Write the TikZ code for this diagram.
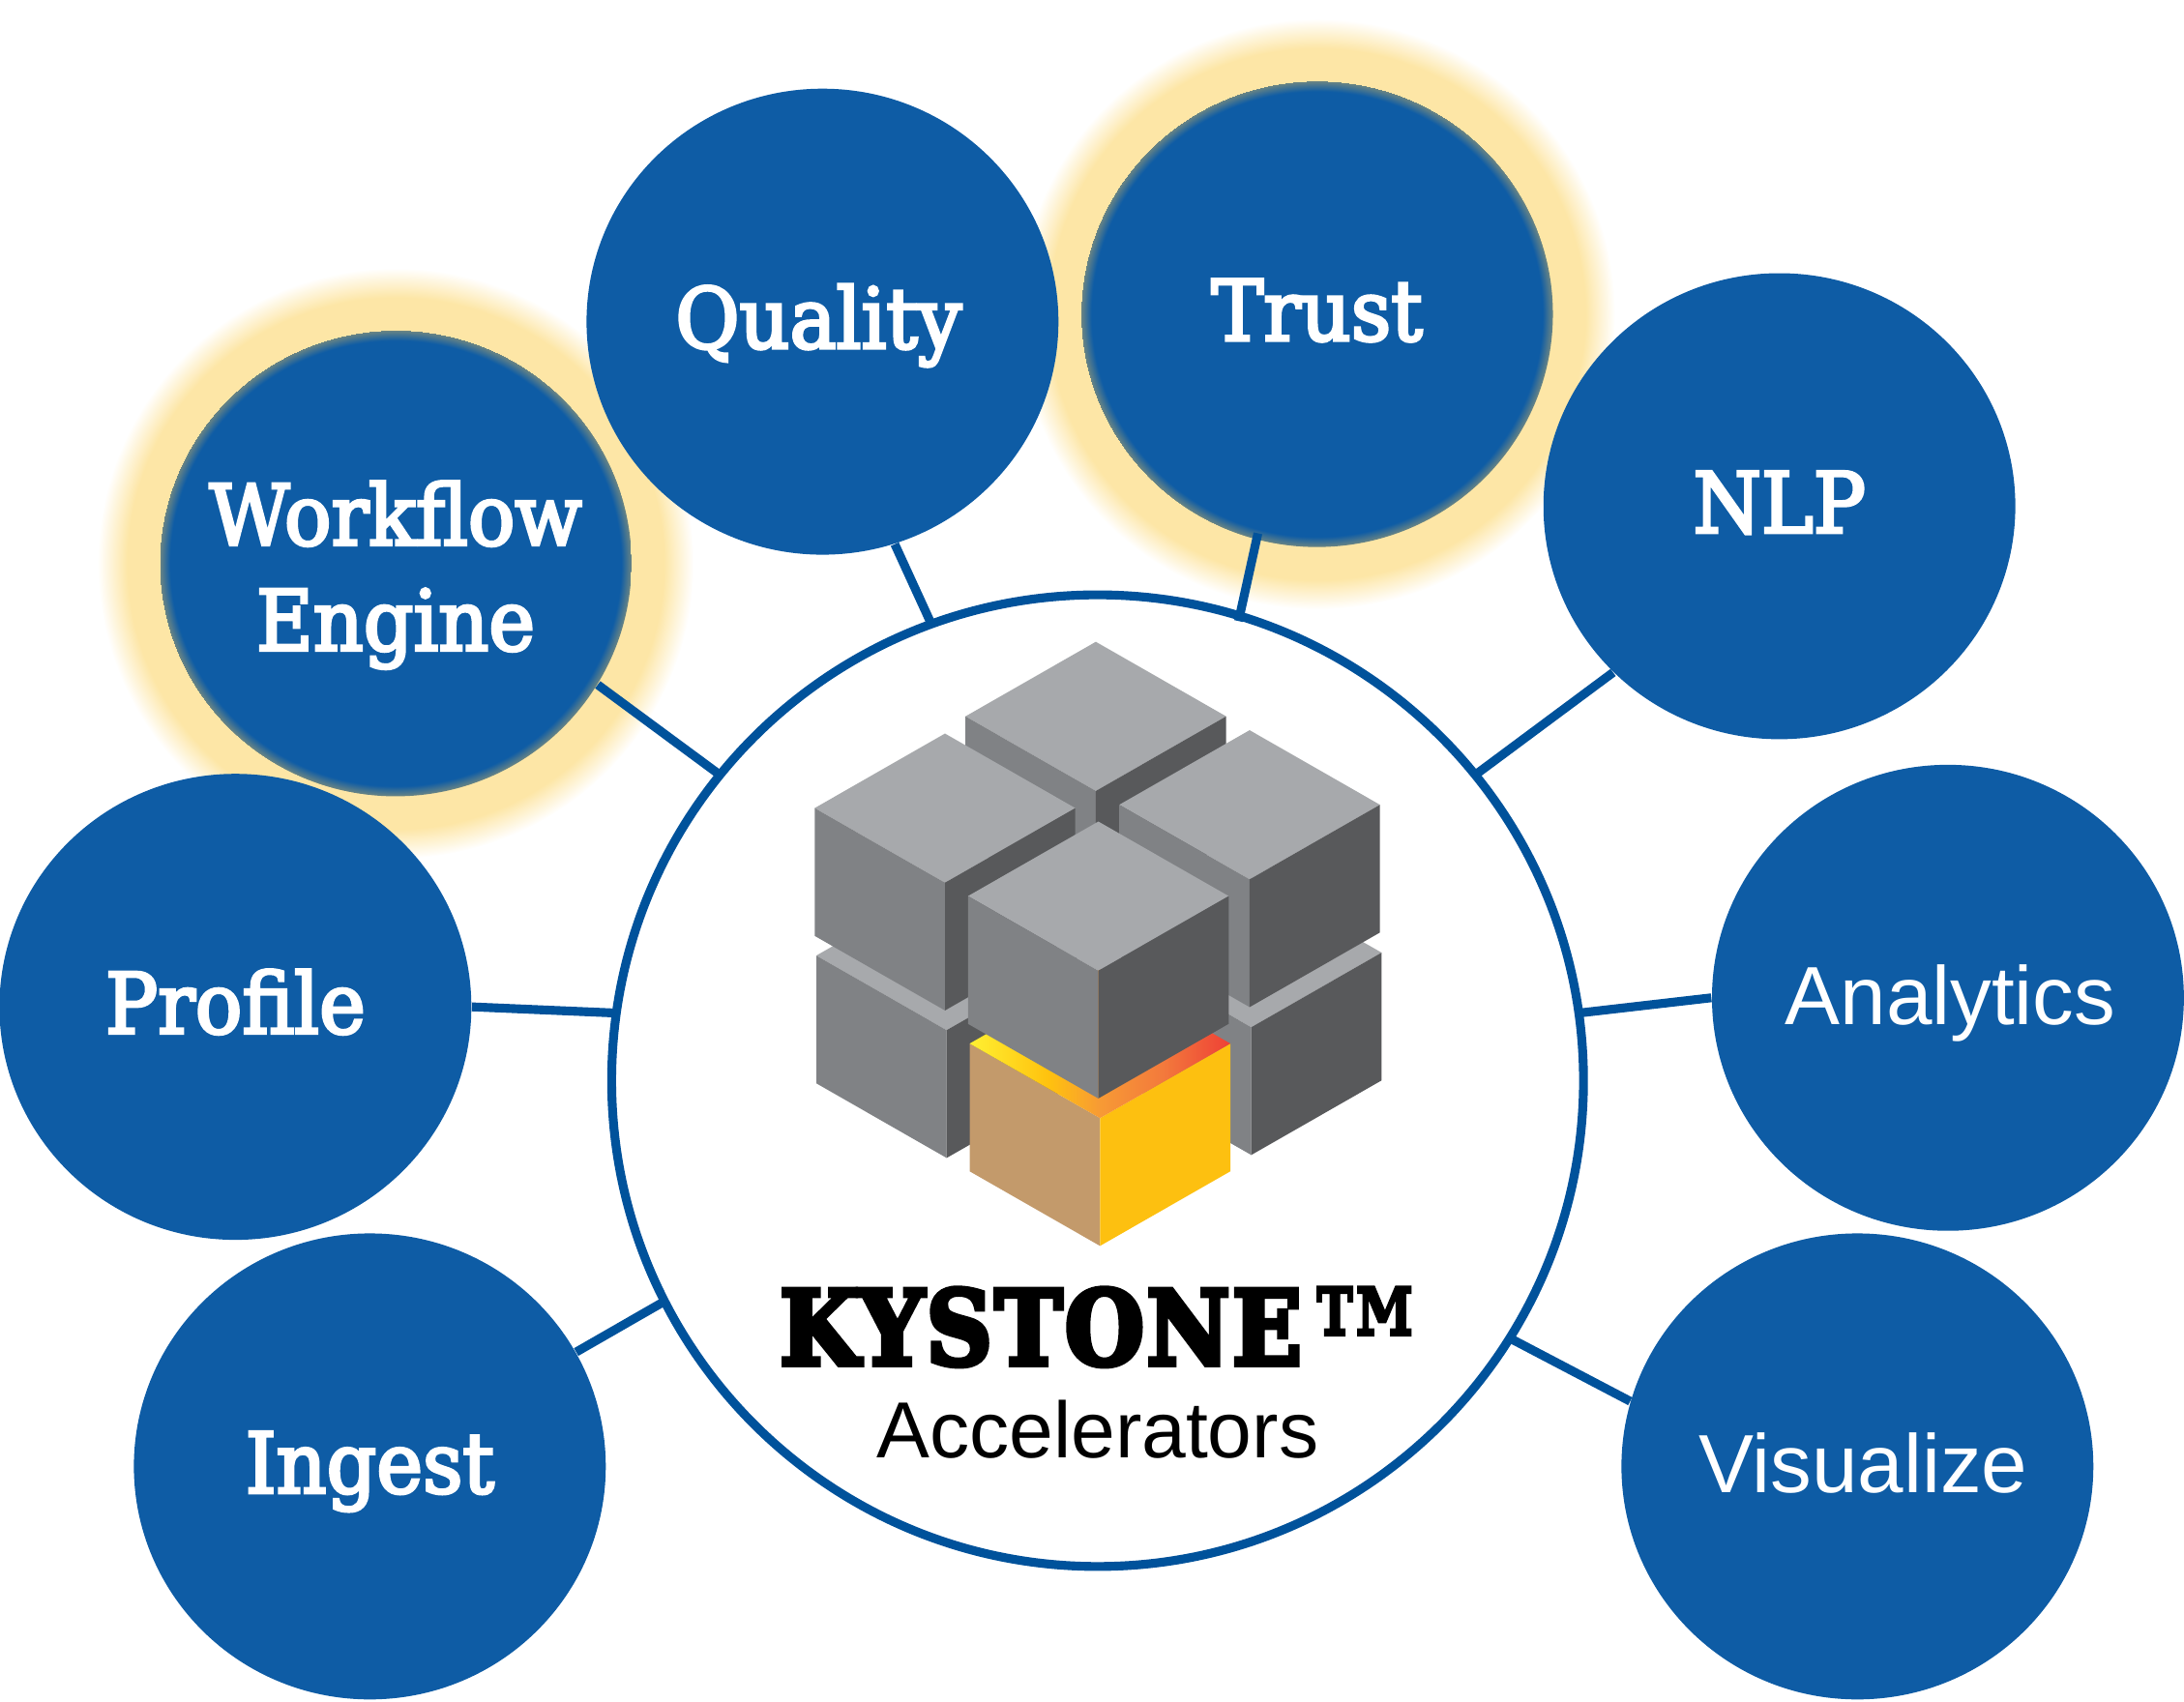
\documentclass[tikz,border=0pt]{standalone}
\usepackage{fontspec}
\setmainfont{Liberation Sans}
\newfontfamily\slabfont[FakeBold=3.6,FakeStretch=.93]{DejaVu Serif}
\newfontfamily\heavyfont[FakeBold=5,FakeStretch=.88,LetterSpace=2.5]{DejaVu Serif Bold}
\newfontfamily\markfont[FakeBold=.8,FakeStretch=1.05]{DejaVu Serif Bold}
\usetikzlibrary{shapes.geometric}
\definecolor{discblue}{RGB}{14,92,165}
\definecolor{spokeblue}{RGB}{0,82,155}
\definecolor{halocream}{RGB}{253,230,166}
\definecolor{rimtan}{RGB}{107,133,131}
\definecolor{cubetop}{RGB}{167,169,172}
\definecolor{cubeleft}{RGB}{128,130,133}
\definecolor{cuberight}{RGB}{88,89,91}
\definecolor{keytan}{RGB}{195,154,107}
\definecolor{keygold}{RGB}{253,192,16}
\definecolor{lighta}{RGB}{255,240,50}
\definecolor{lightb}{RGB}{255,194,14}
\definecolor{lightc}{RGB}{247,154,53}
\definecolor{lightd}{RGB}{243,122,60}
\definecolor{lighte}{RGB}{238,64,54}
\pgfdeclareradialshading{halo}{\pgfpoint{0bp}{0bp}}{color(0bp)=(halocream); color(22.5bp)=(halocream); color(25bp)=(white)}
\pgfdeclareradialshading{rimglow}{\pgfpoint{0bp}{0bp}}{color(0bp)=(discblue); color(23.9bp)=(discblue); color(25bp)=(rimtan)}
\pgfdeclarehorizontalshading{keytop}{100bp}{color(0bp)=(lighta); color(25bp)=(lighta); color(40bp)=(lightb); color(50bp)=(lightc); color(62bp)=(lightd); color(75bp)=(lighte); color(100bp)=(lighte)}
\tikzset{
disc/.style={ellipse,inner ysep=0pt,inner xsep=-1.5cm,minimum width=4.88cm,minimum height=4.82cm,text=white,align=center,text height=.547cm,text depth=0pt},
plaindisc/.style={disc,fill=discblue},
glowdisc/.style={disc,shade,shading=rimglow},
slab/.style={font=\slabfont\fontsize{24.7}{31}\selectfont},
sans/.style={font=\fontsize{24.3}{31}\selectfont},
spoke/.style={draw=spokeblue,line width=2.6pt},
hubtext/.style={anchor=base,inner sep=0pt,text depth=0pt}
}
\newcommand{\isocube}[5]{
\fill[#3] (#1,#2) -- ++(-311,-178) -- ++(311,-178) -- ++(311,178) -- cycle;
\fill[#4] (#1,#2) -- ++(-311,-178) -- ++(0,305) -- ++(311,178) -- cycle;
\fill[#5] (#1,#2) -- ++(311,-178) -- ++(0,305) -- ++(-311,178) -- cycle;
}
\begin{document}
\begin{tikzpicture}[x=.0144cm,y=-.0144cm]
\useasboundingbox (0,0) rectangle (1568,1221.5);
\shade[shading=halo] (284,404.5) ellipse [x radius=214,y radius=212];
\shade[shading=halo] (945.5,225.5) ellipse [x radius=214,y radius=212];
\node[plaindisc,slab] (quality) at (590.5,231) {Quality\hspace*{.08cm}};
\node[plaindisc,slab] (profile) at (169,723) {Profile};
\node[plaindisc,slab] (ingest) at (265.5,1053) {Ingest};
\node[plaindisc,slab] (nlp) at (1277.5,363.5) {NLP};
\node[plaindisc,sans] (analytics) at (1398.5,716.5) {\hspace*{.05cm}Analytics};
\node[plaindisc,sans] (visualize) at (1333.5,1053) {\hspace*{.12cm}Visualize};
\node[glowdisc,slab] (trust) at (945.5,225.5) {Trust};
\node[glowdisc,slab,text height=1.8cm] (workflow) at (284,404.5) {Workflow\\Engine};
\node[circle,draw=spokeblue,line width=2.6pt,fill=white,minimum size=10.05cm,inner sep=0pt,outer sep=0pt] (hub) at (788,776) {};
\draw[spoke] (hub.141) -- (workflow.-31.6);
\draw[spoke] (hub.110.3) -- (quality.-72.3);
\draw[spoke,shorten >=-2pt,shorten <=-1.5pt] (hub.73.6) -- (trust.-105.3);
\draw[spoke] (hub.39.7) -- (nlp.-135.5);
\draw[spoke] (hub.8.4) -- (analytics.180);
\draw[spoke] (hub.-32.5) -- (visualize.164.5);
\draw[spoke] (hub.-153.6) -- (ingest.29.5);
\draw[spoke] (hub.172) -- (profile.0.7);
\begin{scope}[shift={(8cm,-6.4cm)},x=.004336cm,y=-.004336cm]
\isocube{413}{982}{cubetop}{cubeleft}{cuberight}
\isocube{1140}{975}{cubetop}{cubeleft}{cuberight}
\isocube{769}{411}{cubetop}{cubeleft}{cuberight}
\isocube{409}{630}{cubetop}{cubeleft}{cuberight}
\isocube{1136}{622}{cubetop}{cubeleft}{cuberight}
\fill[keytan] (779,1192) -- ++(-311,-178) -- ++(0,305) -- ++(311,178) -- cycle;
\fill[keygold] (779,1192) -- ++(311,-178) -- ++(0,305) -- ++(-311,178) -- cycle;
\shade[shading=keytop] (779,1192) -- ++(-311,-178) -- ++(311,-178) -- ++(311,178) -- cycle;
\isocube{775}{840}{cubetop}{cubeleft}{cuberight}
\end{scope}
\node[hubtext,font=\heavyfont\fontsize{30.4}{36}\selectfont] (kystone) at (794,980) {KYSTONE\smash{\raisebox{-.48em}{\scalebox{1.2}[1.7]{\markfont ™}}}};
\node[hubtext,font=\fontsize{23.4}{28}\selectfont] (accel) at (788,1047) {Accelerators};
\end{tikzpicture}
\end{document}
